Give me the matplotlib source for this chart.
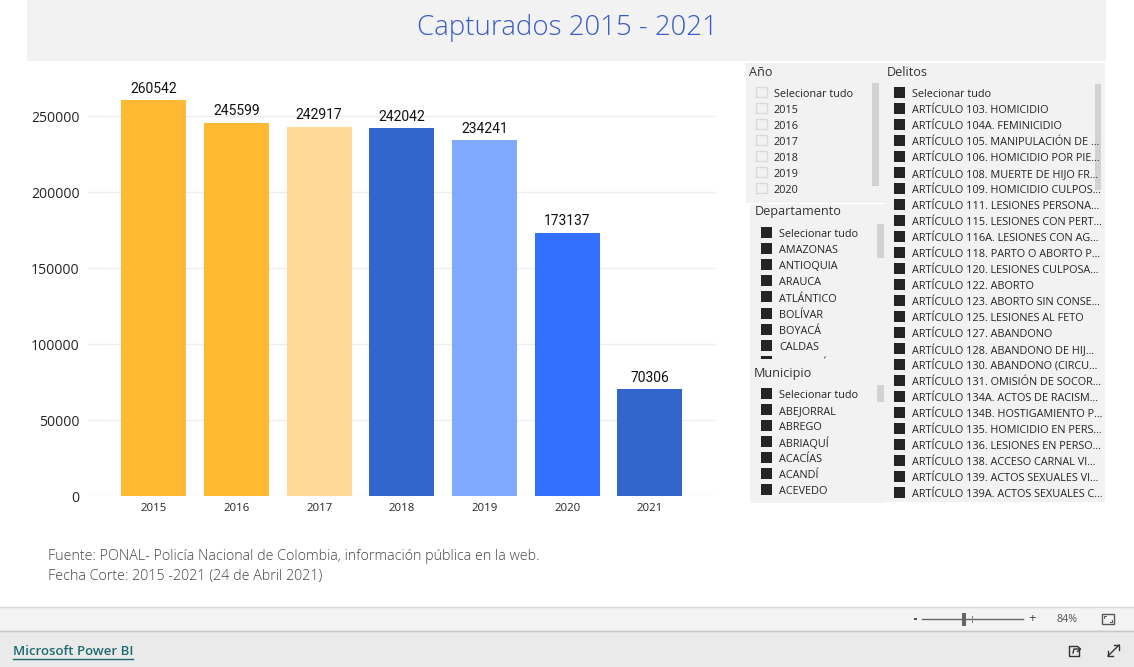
import matplotlib
matplotlib.use("Agg")
import matplotlib.pyplot as plt
from matplotlib.patches import Rectangle
import numpy as np

WIDTH, HEIGHT = 1134, 667

# Chart data
YEARS = ["2015", "2016", "2017", "2018", "2019", "2020", "2021"]
CAPTURED = [260542, 245599, 242917, 242042, 234241, 173137, 70306]
BAR_COLORS = ["#FFB933", "#FFB933", "#FFD998", "#3366CC", "#80AAFF", "#3370FF", "#3366CC"]
Y_TICKS = [0, 50000, 100000, 150000, 200000, 250000]

TITLE = "Capturados 2015 - 2021"
NOTES = [
    "Fuente: PONAL- Policía Nacional de Colombia, información pública en la web.",
    "Fecha Corte: 2015 -2021 (24 de Abril 2021)",
]

# Slicer contents
ANO_ITEMS = ["Selecionar tudo", "2015", "2016", "2017", "2018", "2019", "2020"]
DEPTO_ITEMS = ["Selecionar tudo", "AMAZONAS", "ANTIOQUIA", "ARAUCA", "ATLÁNTICO",
               "BOLÍVAR", "BOYACÁ", "CALDAS", "CAQUETÁ"]
MUNI_ITEMS = ["Selecionar tudo", "ABEJORRAL", "ABREGO", "ABRIAQUÍ", "ACACÍAS",
              "ACANDÍ", "ACEVEDO"]
DELITOS_ITEMS = [
    "Selecionar tudo",
    "ARTÍCULO 103. HOMICIDIO",
    "ARTÍCULO 104A. FEMINICIDIO",
    "ARTÍCULO 105. MANIPULACIÓN DE ...",
    "ARTÍCULO 106. HOMICIDIO POR PIE...",
    "ARTÍCULO 108. MUERTE DE HIJO FR...",
    "ARTÍCULO 109. HOMICIDIO CULPOS...",
    "ARTÍCULO 111. LESIONES PERSONA...",
    "ARTÍCULO 115. LESIONES CON PERT...",
    "ARTÍCULO 116A. LESIONES CON AG...",
    "ARTÍCULO 118. PARTO O ABORTO P...",
    "ARTÍCULO 120. LESIONES CULPOSA...",
    "ARTÍCULO 122. ABORTO",
    "ARTÍCULO 123. ABORTO SIN CONSE...",
    "ARTÍCULO 125. LESIONES AL FETO",
    "ARTÍCULO 127. ABANDONO",
    "ARTÍCULO 128. ABANDONO DE HIJ...",
    "ARTÍCULO 130. ABANDONO (CIRCU...",
    "ARTÍCULO 131. OMISIÓN DE SOCOR...",
    "ARTÍCULO 134A. ACTOS DE RACISM...",
    "ARTÍCULO 134B. HOSTIGAMIENTO P...",
    "ARTÍCULO 135. HOMICIDIO EN PERS...",
    "ARTÍCULO 136. LESIONES EN PERSO...",
    "ARTÍCULO 138. ACCESO CARNAL VI...",
    "ARTÍCULO 139. ACTOS SEXUALES VI...",
    "ARTÍCULO 139A. ACTOS SEXUALES C...",
]

PANEL_GRAY = "#F2F2F2"
TEXT_DARK = "#252423"
UI_FONT = "Open Sans"


# Rectangle helper, given in pixels from the top-left corner
def box(ax, x0, y0, x1, y1, color, **kwargs):
    ax.add_patch(Rectangle((x0, y0), x1 - x0, y1 - y0, facecolor=color,
                           edgecolor=kwargs.pop("edgecolor", "none"),
                           linewidth=kwargs.pop("linewidth", 0), **kwargs))


# One slicer: heading, a column of checkboxes with labels, and a scrollbar
def draw_slicer(ax, heading, head_xy, items, box_x, text_x, first_y, step, checked, scroll, clip_y=None):
    ax.text(head_xy[0], head_xy[1], heading, fontsize=9.1, color="#333333",
            family=UI_FONT, va="center", ha="left")
    for i, item in enumerate(items):
        y = first_y + i * step
        if checked:
            patch = Rectangle((box_x, y - 6), 11, 11, facecolor="#252423", edgecolor="none")
        else:
            patch = Rectangle((box_x, y - 6), 10.5, 10.5, facecolor="none",
                              edgecolor="#DADADA", linewidth=1)
        ax.add_patch(patch)
        t = ax.text(text_x, y + 1.6, item, fontsize=7.8, color=TEXT_DARK, family=UI_FONT,
                    va="center", ha="left")
        # The last row of a short slicer is cut off by the panel edge
        if clip_y is not None:
            clip = Rectangle((0, 0), WIDTH, clip_y, transform=ax.transData)
            patch.set_clip_path(clip)
            t.set_clip_on(True)
            t.set_clip_path(clip)
    box(ax, scroll[0], scroll[1], scroll[2], scroll[3], "#D2D2D2")


def draw_background(ax):
    box(ax, 27, 0, 1106, 61, PANEL_GRAY)
    ax.text(567, 28.5, TITLE, fontsize=19.9, color="#3A5CC4", family=UI_FONT,
            fontweight="light", ha="center", va="center")
    box(ax, 746, 63, 885, 203, PANEL_GRAY)
    box(ax, 885, 63, 1105, 502, PANEL_GRAY)
    box(ax, 750, 204, 885, 503, PANEL_GRAY)


def draw_slicers(ax):
    draw_slicer(ax, "Año", (749, 72), ANO_ITEMS, 756, 774, 92.5, 16, False, (872, 83, 879, 186))
    draw_slicer(ax, "Delitos", (887, 72), DELITOS_ITEMS, 894, 912, 93, 16, True, (1095, 84, 1101, 190))
    draw_slicer(ax, "Departamento", (755, 212), DEPTO_ITEMS, 761, 779, 233, 16.1, True,
                (877, 224, 884, 258), clip_y=358.5)
    draw_slicer(ax, "Municipio", (754, 373), MUNI_ITEMS, 761, 779, 394, 16, True, (877, 385, 884, 402))


def draw_notes(ax):
    for note, y in zip(NOTES, [556.5, 576.5]):
        ax.text(48, y, note, fontsize=10.3, color="#444444", family=UI_FONT,
                fontweight="light", va="center", ha="left")


# Power BI footer: zoom control and link bar
def draw_footer(ax):
    box(ax, 0, 607, WIDTH, 630, "#F3F3F3")
    box(ax, 0, 630, WIDTH, 667, "#EAEAEA")
    ax.plot([0, WIDTH], [607, 607], color="#D8D8D8", lw=1)
    ax.plot([0, WIDTH], [630.5, 630.5], color="#C8C8C8", lw=1)

    box(ax, 914, 618, 917, 620, "#555555")
    ax.plot([922, 1023], [619, 619], color="#666666", lw=1)
    box(ax, 962, 613, 966, 626, "#666666")
    ax.plot([972, 972], [616, 622], color="#888888", lw=0.8)
    ax.text(1032, 618.5, "+", fontsize=9.5, color="#444444", family=UI_FONT, ha="center", va="center")
    ax.text(1067, 619, "84%", fontsize=7.7, color="#555555", family=UI_FONT, ha="center", va="center")

    # fit-to-page icon: frame with inner corner marks
    ax.add_patch(Rectangle((1101.5, 614), 12.5, 10, facecolor="none", edgecolor="#555555", linewidth=1))
    ax.plot([1104, 1104, 1106], [618, 616, 616], color="#555555", lw=0.7)
    ax.plot([1109.5, 1111.5, 1111.5], [622, 622, 620], color="#555555", lw=0.7)

    ax.text(13, 651.5, "Microsoft Power BI", fontsize=9.5, color="#1E6A70", family=UI_FONT,
            fontweight="semibold", ha="left", va="center")
    ax.plot([13, 133], [658.5, 658.5], color="#1E6A70", lw=1)

    # share icon: open page with an arrow
    ax.plot([1076, 1069, 1069, 1079, 1079], [645.5, 645.5, 656, 656, 650], color="#333333", lw=1)
    ax.plot([1073, 1074, 1080], [653, 649, 649], color="#333333", lw=1)
    ax.plot([1077.5, 1080.5, 1077.5], [646.5, 649, 651.5], color="#333333", lw=1)

    # expand icon: diagonal double arrow
    ax.plot([1108, 1119], [656, 645], color="#333333", lw=1)
    ax.plot([1114, 1119, 1119], [645, 645, 650], color="#333333", lw=1)
    ax.plot([1108, 1108, 1113], [651, 656, 656], color="#333333", lw=1)


def draw_bars(ax):
    x = np.arange(len(YEARS))
    bars = ax.bar(x, CAPTURED, width=0.787, color=BAR_COLORS, zorder=2)
    for bar, value in zip(bars, CAPTURED):
        ax.text(bar.get_x() + bar.get_width() / 2, value + 2900, str(value),
                ha="center", va="bottom", fontsize=10, color="#111111",
                family="Roboto", zorder=3)
    ax.set_xticks(x)
    ax.set_xticklabels(YEARS, fontsize=8.2, color=TEXT_DARK, family=UI_FONT)
    ax.set_yticks(Y_TICKS)
    ax.set_yticklabels([str(t) for t in Y_TICKS], fontsize=10.1, color=TEXT_DARK, family=UI_FONT,
                       va="center_baseline")
    ax.set_xlim(-0.795, 6.80)
    ax.set_ylim(0, 276316)
    ax.grid(axis="y", color="#EEEEEE", linewidth=1, zorder=0)
    ax.set_axisbelow(True)
    ax.tick_params(axis="both", length=0)
    ax.tick_params(axis="y", pad=6)
    ax.tick_params(axis="x", pad=5)
    for spine in ax.spines.values():
        spine.set_visible(False)
    ax.patch.set_alpha(0)


def main():
    fig = plt.figure(figsize=(WIDTH / 100, HEIGHT / 100), dpi=100, facecolor="white")

    # Full-figure overlay in pixel units for the report furniture
    page = fig.add_axes([0, 0, 1, 1])
    page.set_xlim(0, WIDTH)
    page.set_ylim(HEIGHT, 0)
    page.axis("off")

    draw_background(page)
    draw_slicers(page)
    draw_notes(page)
    draw_footer(page)

    # Plot area spans x 88-716 px and y 76-496 px
    chart = fig.add_axes([88 / WIDTH, 1 - 496 / HEIGHT, 628 / WIDTH, 420 / HEIGHT])
    draw_bars(chart)

    fig.savefig("out.png", dpi=100, facecolor="white")


if __name__ == "__main__":
    main()
